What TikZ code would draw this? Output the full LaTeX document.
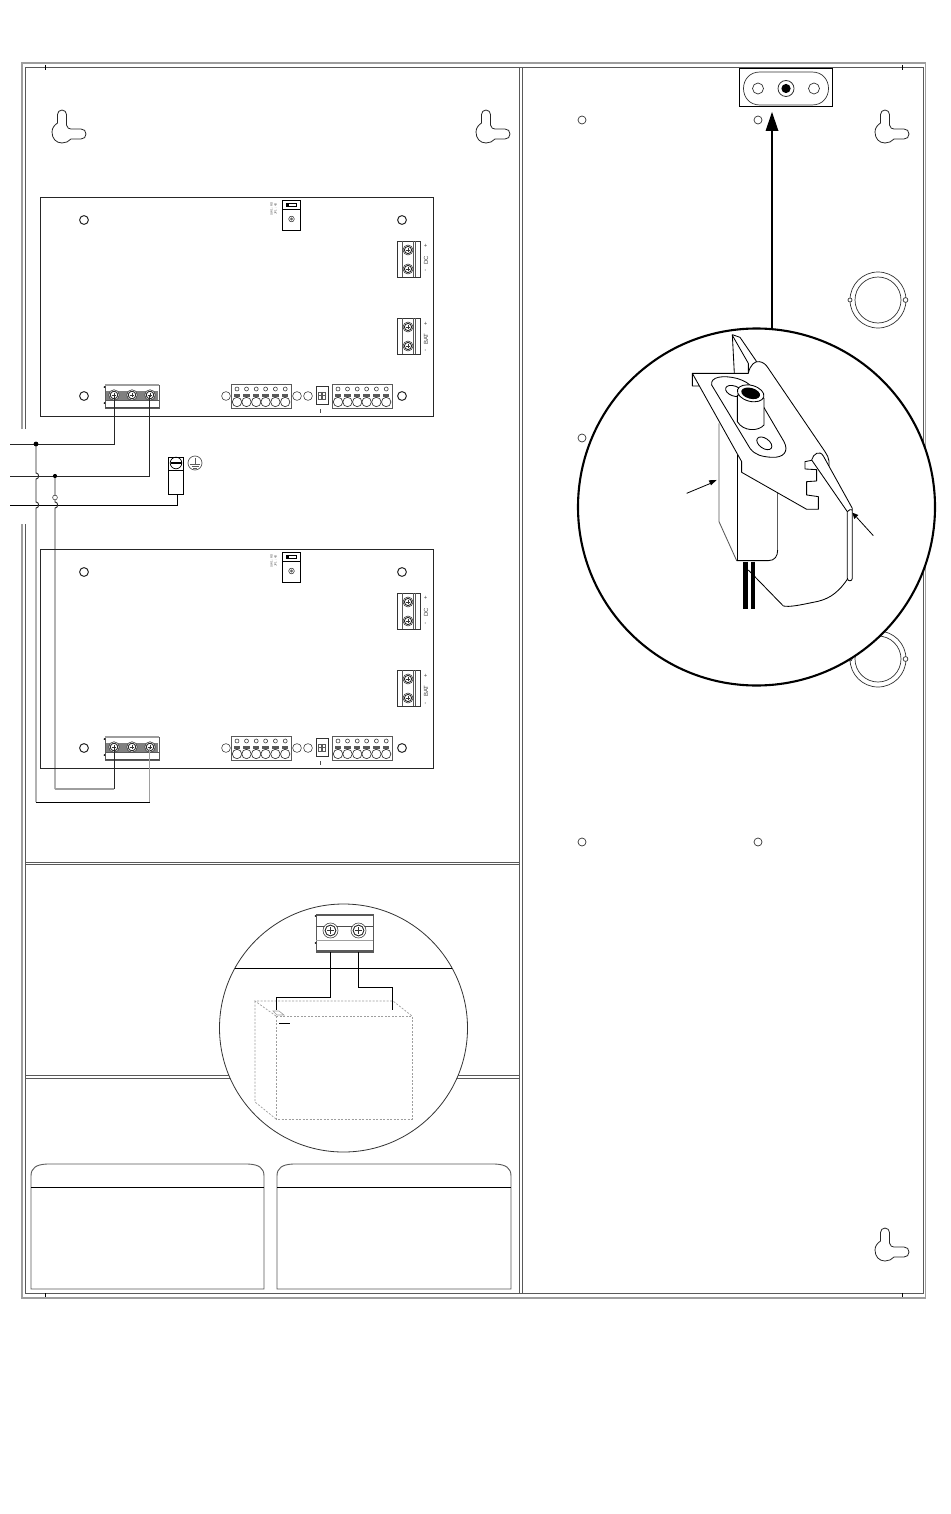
\documentclass[tikz,border=0pt]{standalone}
\usepackage{fontspec}
\setmainfont{Liberation Sans}
\definecolor{gr}{gray}{0.35}
\definecolor{lg}{gray}{0.62}
\tikzset{
 frameline/.style={draw=gr,line width=1pt},
 pline/.style={draw=black!85,line width=.8pt},
 wire/.style={draw=black!85,line width=.9pt},
 hole/.style={draw=black!85,line width=.8pt,fill=white},
 fine/.style={draw=black!80,line width=.55pt},
 tiny/.style={font=\fontsize{6}{6}\selectfont,text=black!75,inner sep=0pt},
 micro/.style={font=\fontsize{3}{3}\selectfont,text=black!70,inner sep=0pt,rotate=90},
 devline/.style={draw=black,line width=.85pt,line join=round},
 batdash/.style={draw=lg,line width=.7pt,dash pattern=on 2pt off 1.5pt},
}
\newcommand{\mykeyhole}[2]{%
 \draw[shift={(#1,#2)},pline] (-4.5,-9) -- (-4.5,-17.5) .. controls (-4.5,-20) and (-2.5,-22) .. (0,-22)
 .. controls (2.5,-22) and (4.5,-20) .. (4.5,-17.5) -- (4.5,-7) .. controls (5,-4) and (7,-3) .. (9,-3)
 -- (19,-3) .. controls (22,-3) and (24,-1) .. (24,2) .. controls (24,5) and (22,7) .. (19,7)
 -- (9,7) .. controls (7,9.5) and (3.5,11) .. (0,11) .. controls (-6,11) and (-10,6.5) .. (-10,0)
 .. controls (-10,-4) and (-7.5,-7) .. (-4.5,-9) -- cycle;}
\newcommand{\myscrew}[3]{%
 \draw[fine,fill=white] (#1,#2) circle (#3pt);
 \draw[black!85,line width=.9pt] (#1,#2) circle (#3pt*0.72);
 \draw[fine,line width=.7pt] (#1-#3*0.45,#2) -- (#1+#3*0.45,#2) (#1,#2-#3*0.45) -- (#1,#2+#3*0.45);}
\newcommand{\myvterm}[2]{% x, y of top edge; 36 high
 \begin{scope}[shift={(#1,#2)}]
 \draw[fine,line width=.7pt] (0,0) rectangle (23,36);
 \draw[gr,line width=.6pt] (5,0) -- (5,36) (16,0) -- (16,36) (18,0) -- (18,36);
 \draw[black!80,line width=1.4pt] (2,36.6) -- (8,36.6) (16,36.6) -- (21,36.6);
 \myscrew{11}{9}{5}
 \myscrew{11}{28}{5}
 \end{scope}}
\newcommand{\myrow}[1]{% x of left edge of six-way connector, block 60 wide
 \begin{scope}[shift={(#1,384)}]
 \draw[draw=gr,line width=.7pt] (0,0) rectangle (60,24);
 \foreach \c in {6,15.5,25.2,34.6,44.4,54.2}{
  \draw[fine] (\c,5) circle (2pt);
  \fill[black!65] (\c-3.2,9.5) rectangle (\c+3.2,12.5);
  \draw[fine,line width=.65pt,fill=white] (\c,18) circle (4.7pt);
 }
 \end{scope}}
\newcommand{\myboard}[1]{%
 \begin{scope}[shift={(0,#1)}]
 \draw[pline,line width=.9pt] (40,197) rectangle (433,416);
 \foreach \p in {(84,220),(402,220),(84,396),(402,396)}{\draw[hole,line width=1pt] \p circle (4.4pt);}
 \foreach \p in {(226,396),(297,396),(308,396)}{\draw[fine] \p circle (4.4pt);}
 % jumper
 \draw[black,line width=.8pt] (282,200) rectangle (300,209);
 \draw[black,line width=.8pt] (282,209) rectangle (300.5,230);
 \draw[black,line width=.6pt] (286,203) rectangle (296,206.5);
 \fill[black] (286,203) rectangle (289,206.5);
 \draw[fine] (291.5,219) circle (2.8pt);
 \fill[black!60] (291.5,219) circle (1.6pt);
 \node[micro] (lbA#1) at (271.5,209) {SW1 : RD};
 \node[micro] (lbB#1) at (275.5,209) {JP1 : 4D};
 % side terminals
 \myvterm{397}{241}
 \myvterm{397}{318}
 \node[tiny,rotate=90] (dcp#1) at (426,246) {+};
 \node[tiny,rotate=90] (dct#1) at (426,260) {DC};
 \node[tiny,rotate=90] (dcm#1) at (426,271) {-};
 \node[tiny,rotate=90] (bap#1) at (426,324) {+};
 \node[tiny,rotate=90] (bat#1) at (426,339) {BAT};
 \node[tiny,rotate=90] (bam#1) at (426,351) {-};
 % bottom power terminal
 \draw[draw=gr,line width=.8pt] (105,385) rectangle (159,408);
 \draw[lg,line width=2pt] (105,385) -- (159,385);
 \draw[black!70,line width=1.6pt] (105,407.5) -- (159,407.5);
 \fill[black!50] (106,390.5) rectangle (158,400);
 \draw[gr,line width=.6pt] (105,400.5) -- (159,400.5);
 \fill[black] (104.4,387) circle (.9pt) (104.4,403) circle (.9pt);
 \myscrew{114}{395}{5.3}
 \myscrew{132}{395}{5.3}
 \myscrew{150}{395}{5.3}
 \myrow{231}
 \myrow{332}
 % dip switch
 \draw[black!80,line width=.6pt] (316,386) rectangle (328,404);
 \draw[gr,line width=.4pt] (318.5,392) rectangle (321.5,399) (322.5,392) rectangle (325.5,399);
 \draw[gr,line width=.4pt] (318.5,395.5) -- (321.5,395.5) (322.5,395.5) -- (325.5,395.5);
 \draw[black!70,line width=.8pt] (320.5,409) -- (320.5,413);
 \end{scope}}
\newcommand{\myknock}[2]{%
 \begin{scope}[shift={(#1,#2)}]
 \draw[fine,line width=.7pt] (0,0) circle (23pt);
 \draw[fine,line width=.7pt] (0,0) circle (28pt);
 \draw[fine,line width=.7pt,fill=white] (-28,0) circle (2pt) (27.5,0) circle (2.4pt);
 \end{scope}}
\newcommand{\mylabelbox}[2]{%
 \draw[draw=gr,line width=.9pt] (#1,1289) -- (#1,1176) .. controls (#1,1168) and (#1+5,1164.5) .. (#1+16,1164) -- (#2-16,1164)
   .. controls (#2-5,1164.5) and (#2,1168) .. (#2,1176) -- (#2,1289) -- cycle;
 \draw[black,line width=.8pt] (#1,1187) -- (#2,1187);}
\begin{document}
\begin{tikzpicture}[x=1pt,y=-1pt]
\useasboundingbox (0,0) rectangle (950,1514);
\fill[white] (0,0) rectangle (950,1514);
% enclosure, broken on the left where the cables enter
\draw[draw=lg,line width=1.6pt] (22,429) -- (22,63) -- (925.5,63) -- (925.5,1298) -- (22,1298) -- (22,524);
\draw[frameline] (25,429) -- (25,68) -- (923,68) -- (923,1293) -- (25,1293) -- (25,524);
\draw[black,line width=.6pt] (45,65) -- (45,70) (45,1293) -- (45,1297) (902,65) -- (902,70) (902,1293) -- (902,1297);
\draw[frameline] (519,68) -- (519,1293) (522,68) -- (522,1293);
\draw[frameline] (25,862) -- (519,862) (25,864.5) -- (519,864.5);
\draw[frameline] (25,1075.5) -- (519,1075.5) (25,1078) -- (519,1078);
% keyholes
\mykeyhole{62}{132}
\mykeyhole{486}{132}
\mykeyhole{885}{132}
\mykeyhole{885}{1250}
% boards
\myboard{0}
\myboard{352}
% cables
\coordinate (jA) at (36,444);
\coordinate (jB) at (55,476);
\coordinate (gnd) at (177,505);
\draw[wire] (10,444) -- (114,444) -- (114,395);
\draw[wire] (10,476) -- (149.5,476) -- (149.5,395);
\draw[wire,draw=black] (10,505) -- (gnd) -- (177,494.5);
\draw[wire] (jA) -- (36,473) .. controls (39.5,473) and (39.5,479) .. (36,479) -- (36,502)
   .. controls (39.5,502) and (39.5,508) .. (36,508) -- (36,802);
\draw[wire,draw=black] (36,802) -- (149.5,802);
\draw[wire,draw=lg] (149.5,802) -- (149.5,748);
\draw[wire] (jB) -- (55,502) .. controls (58.5,502) and (58.5,508) .. (55,508) -- (55,789);
\draw[wire,draw=lg,line width=1.1pt] (55,789) -- (114,789);
\draw[wire] (114,789) -- (114,747);
\fill[black] (jA) circle (2.4pt) (jB) circle (2.1pt);
\draw[fine,fill=white] (55,497.5) circle (2.4pt);
% earth block
\draw[black,line width=.8pt] (168.5,457) rectangle (183.5,494.5);
\draw[black,line width=.7pt] (168.5,470) -- (183.5,470);
\draw[black,line width=.7pt] (176,463) circle (5.8pt);
\draw[black,line width=1.4pt] (170.5,463) -- (181.5,463);
\draw[gr,line width=.7pt] (195,463) circle (7pt);
\draw[gr,line width=.6pt] (195,458) -- (195,464) (190,464.5) -- (200,464.5) (191.5,466.5) -- (198.5,466.5) (193,468.5) -- (197,468.5);
% label boxes
\mylabelbox{31}{264}
\mylabelbox{277}{511}
% right panel holes
\foreach \p in {(582,120),(758,120),(582,438),(582,842),(758,842)}{\draw[fine,line width=.7pt] \p circle (4pt);}
\myknock{878}{300}
\myknock{878}{659}
% tamper switch plate
\draw[black,line width=1pt,fill=white] (739,69) rectangle (832,107);
\draw[fine,line width=.7pt] (760,72) -- (812,72) .. controls (834,72) and (834,105) .. (812,105) -- (760,105) .. controls (738,105) and (738,72) .. (760,72) -- cycle;
\draw[fine,line width=.7pt] (758,88.5) circle (5.5pt) (814,88.5) circle (5.5pt);
\draw[fine,line width=.8pt] (786,88.5) circle (8pt);
\fill[black] (786,88.5) circle (4.6pt);
% big magnifier
\coordinate (lensTop) at (772,328);
\coordinate (plateTip) at (772,112);
\draw[black,line width=2.1pt,fill=white] (756.5,507) circle (178.5pt);
\draw[black,line width=2.4pt] (lensTop) -- (772,128);
\fill[black] (plateTip) -- (778.5,131) -- (765.5,131) -- cycle;
% tamper device (coordinates taken on a 3x grid)
\begin{scope}[shift={(640,320)},x=0.3333pt,y=-0.3333pt]
 \draw[devline,draw=gr] (237,310) -- (237,605) -- (290,722);
 \draw[devline] (290,722) -- (385,722) .. controls (405,722) and (413,708) .. (413,690);
 \draw[devline,draw=gr] (413,690) -- (413,520);
 \draw[devline] (292,405) -- (292,722);
 \draw[black,line width=4.4pt] (316,725) -- (316,866);
 \draw[black,line width=3.8pt] (339,725) -- (339,866);
 % blade
 \draw[devline] (283,160) -- (277,44) -- (300,52) -- (350,125);
 \draw[devline] (277,46) -- (325,130) -- (325,160);
 % plate
 \draw[devline,fill=white] (178,198) -- (157,198) -- (157,160) -- (325,160) .. controls (330,135) and (345,122) .. (358,125)
   .. controls (368,126) and (378,133) .. (385,145) -- (555,395) .. controls (568,412) and (572,435) .. (562,452)
   -- (520,420) -- (495,425) -- (495,447) -- (530,449) -- (530,483) -- (500,485) -- (500,525) -- (535,530) -- (535,568) -- (500,568)
   -- (305,457) -- (305,425) -- (157,160);
 % slot and rod
 \draw[devline,fill=white] (515,420) .. controls (520,400) and (540,390) .. (550,408) -- (637,565) -- (637,775) .. controls (637,785) and (622,785) .. (622,775) -- (622,575) -- cycle;
 \draw[devline] (622,575) .. controls (628,568) and (632,568) .. (637,570);
 % cable loop
 \draw[devline] (622,778) .. controls (590,825) and (560,840) .. (520,847) .. controls (480,855) and (450,862) .. (430,858) -- (325,750);
 % oval recess
 \draw[devline] (215,195) .. controls (210,170) and (250,165) .. (290,175) .. controls (315,183) and (328,190) .. (338,205) -- (432,365)
   .. controls (448,395) and (430,414) .. (395,412) .. controls (365,410) and (345,405) .. (330,385) -- cycle;
 \draw[devline,rotate around={-20:(282,213)}] (282,213) ellipse [x radius=8.8pt,y radius=5pt];
 \draw[devline,rotate around={-35:(373,370)}] (373,370) ellipse [x radius=8.5pt,y radius=5pt];
 % post
 \draw[devline,fill=white] (292,225) -- (292,305) .. controls (310,335) and (355,335) .. (372,315) -- (372,235) -- cycle;
 \draw[devline,fill=white,rotate around={-15:(332,220)}] (332,220) ellipse [x radius=13.6pt,y radius=8pt];
 \fill[black,rotate around={-15:(332,220)}] (332,220) ellipse [x radius=9.6pt,y radius=5.4pt];
 % leaders
 \coordinate (lA) at (140,520); \coordinate (lB) at (230,480);
 \coordinate (rA) at (700,647); \coordinate (rB) at (637,578);
 \draw[black,line width=.8pt] (lA) -- (212,490);
 \fill[black] (lB) -- (206,481) -- (213,496) -- cycle;
 \draw[black,line width=.8pt] (rA) -- (650,592);
 \fill[black] (rB) -- (655,585) -- (643,597) -- cycle;
\end{scope}
% battery magnifier
\draw[black!80,line width=.8pt,fill=white] (343.5,1028) circle (124pt);
\draw[black,line width=.9pt] (235,968) -- (452,968);
\draw[batdash] (276,1016) rectangle (412,1119);
\draw[batdash] (276,1016) -- (255,1001) -- (393,1001) -- (412,1016);
\draw[batdash] (255,1001) -- (255,1102) -- (276,1119);
\draw[draw=lg,line width=.6pt] (273,1011) -- (279,1011) -- (284,1015) -- (277,1015) -- cycle;
\draw[black,line width=.9pt] (279,1023) -- (290,1023);
% battery terminal
\draw[draw=gr,line width=.8pt] (316,914) rectangle (373,952);
\draw[gr,line width=1.6pt] (316,915) -- (373,915);
\draw[gr,line width=1.6pt] (316,951) -- (373,951);
\draw[black!70,line width=.7pt] (316,926) -- (373,926);
\draw[lg,line width=.9pt] (316,940) -- (373,940);
\fill[black] (315.5,916) circle (.9pt) (315.5,943) circle (.9pt);
\myscrew{330.5}{930.5}{7.5}
\myscrew{358.5}{930.5}{7.5}
\coordinate (battM) at (276,1010);
\coordinate (battP) at (392,1010);
\draw[wire,draw=black] (330.5,952) -- (330.5,997) -- (276,997) -- (battM);
\draw[wire,draw=black] (358.5,952) -- (358.5,987) -- (392,987) -- (battP);
\end{tikzpicture}
\end{document}
